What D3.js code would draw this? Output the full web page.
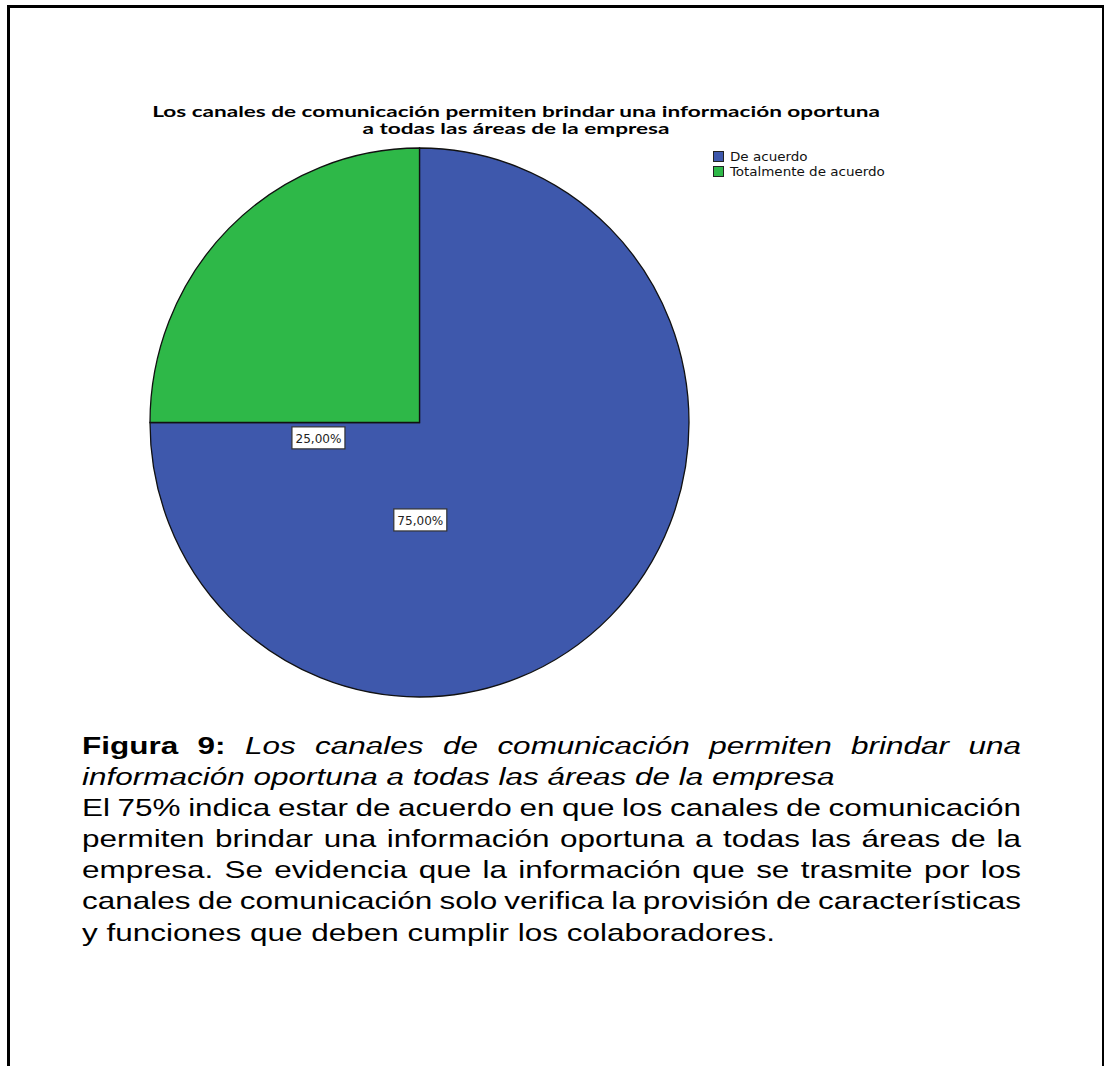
<!DOCTYPE html>
<html>
<head>
<meta charset="utf-8">
<script src="https://cdn.jsdelivr.net/npm/d3@7"></script>
<style>
  html, body { margin: 0; padding: 0; background: #fff; }
  svg { display: block; }
</style>
</head>
<body>
<svg id="chart" width="1104" height="1066"></svg>
<script>
// Survey answers and their shares (%)
const categories = ["De acuerdo", "Totalmente de acuerdo"];
const percentages = [75, 25];
const sliceColors = ["#3E58AC", "#2EB848"];
const chartTitle = [
  "Los canales de comunicación permiten brindar una información oportuna",
  "a todas las áreas de la empresa"
];
const captionLines = [
  { parts: [{ t: "Figura 9:", b: true }, { t: " Los canales de comunicación permiten brindar una", i: true }], justify: true },
  { parts: [{ t: "información oportuna a todas las áreas de la empresa", i: true }], justify: false },
  { parts: [{ t: "El 75% indica estar de acuerdo en que los canales de comunicación" }], justify: true },
  { parts: [{ t: "permiten brindar una información oportuna a todas las áreas de la" }], justify: true },
  { parts: [{ t: "empresa. Se evidencia que la información que se trasmite por los" }], justify: true },
  { parts: [{ t: "canales de comunicación solo verifica la provisión de características" }], justify: true },
  { parts: [{ t: "y funciones que deben cumplir los colaboradores." }], justify: false }
];

const svg = d3.select("#chart");

// outer frame (open at the bottom of the view)
svg.append("path")
  .attr("d", "M8.5,1070 L8.5,6.5 L1103.5,6.5 L1103.5,1070")
  .attr("fill", "none").attr("stroke", "#000").attr("stroke-width", 3);

// stretch a text horizontally about its own anchor so it spans `target` px
function stretchTo(sel, target, ax, ay) {
  const w = sel.node().getComputedTextLength();
  const sx = target / w;
  sel.attr("transform", `translate(${ax},${ay}) scale(${sx},1) translate(${-ax},${-ay})`);
  return sx;
}

// ---- title ----
const titleFont = "Lato, 'Open Sans', sans-serif";
const titleSize = 14.5;
const t1 = svg.append("text").attr("x", 516).attr("y", 117)
  .attr("text-anchor", "middle").attr("font-family", titleFont)
  .attr("font-weight", "bold").attr("font-size", titleSize).attr("fill", "#000").text(chartTitle[0]);
const titleSx = stretchTo(t1, 728, 516, 117);
svg.append("text").attr("x", 516).attr("y", 134)
  .attr("text-anchor", "middle").attr("font-family", titleFont)
  .attr("font-weight", "bold").attr("font-size", titleSize).attr("fill", "#000")
  .attr("transform", `translate(516,0) scale(${titleSx},1) translate(-516,0)`)
  .text(chartTitle[1]);

// ---- pie ----
const cx = 419.5, cy = 422.5, rx = 269.5, ry = 274.5;
const color = d3.scaleOrdinal().domain(categories).range(sliceColors);
const pie = d3.pie().sort(null).value(d => d.value);
const slices = pie(categories.map((c, i) => ({ name: c, value: percentages[i] })));
const arc = d3.arc().innerRadius(0).outerRadius(rx);

const pieG = svg.append("g")
  .attr("transform", `translate(${cx},${cy}) scale(1,${ry / rx})`);
pieG.selectAll("path.slice").data(slices).enter().append("path")
  .attr("class", "slice")
  .attr("d", arc)
  .attr("fill", d => color(d.data.name))
  .attr("stroke", "#111")
  .attr("stroke-width", 1.3)
  .attr("vector-effect", "non-scaling-stroke");

// value labels, placed in units of the radius
const labelOffsets = { "De acuerdo": [0.003, 0.355], "Totalmente de acuerdo": [-0.375, 0.056] };
const fmt = v => d3.format(".2f")(v).replace(".", ",") + "%";
const labelG = svg.append("g");
slices.forEach(s => {
  const off = labelOffsets[s.data.name];
  const lx = cx + off[0] * rx, ly = cy + off[1] * ry;
  const g = labelG.append("g").attr("transform", `translate(${lx},${ly})`);
  g.append("rect").attr("x", -26.5).attr("y", -11)
    .attr("width", 53).attr("height", 22)
    .attr("fill", "#fff").attr("stroke", "#333").attr("stroke-width", 1.2);
  const txt = g.append("text").attr("text-anchor", "middle").attr("dy", "0.36em")
    .attr("font-family", "'DejaVu Sans Condensed', 'DejaVu Sans', sans-serif")
    .attr("font-size", 13).attr("fill", "#222").text(fmt(s.data.value));
  stretchTo(txt, 46, 0, 0);
});

// ---- legend ----
const legG = svg.append("g").attr("transform", "translate(713,151)");
categories.forEach((c, i) => {
  const row = legG.append("g").attr("transform", `translate(0,${i * 15})`);
  row.append("rect").attr("x", 0.5).attr("y", 0.5).attr("width", 10).attr("height", 10)
    .attr("fill", color(c)).attr("stroke", "#222").attr("stroke-width", 1);
  const t = row.append("text").attr("x", 17).attr("y", 10)
    .attr("font-family", "'DejaVu Sans Condensed', 'DejaVu Sans', sans-serif")
    .attr("font-size", 12.5).attr("fill", "#111").text(c);
  t.attr("transform", "translate(17,0) scale(1.2,1) translate(-17,0)");
});

// ---- caption paragraph (justified) ----
const capX0 = 82, capX1 = 1021, capFont = "'Liberation Sans', Arial, sans-serif", capSize = 24;
const capG = svg.append("g").attr("font-family", capFont).attr("font-size", capSize).attr("fill", "#000");
// horizontal stretch taken from the last (unjustified) line reaching x = 775
const probe = capG.append("text").text(captionLines[6].parts[0].t);
const capSx = (775 - capX0) / probe.node().getComputedTextLength();
probe.remove();
capG.attr("transform", `translate(${capX0},0) scale(${capSx},1) translate(${-capX0},0)`);
const innerW = (capX1 - capX0) / capSx;

captionLines.forEach((line, li) => {
  const y = 754 + li * 31.1;
  const lineG = capG.append("g");
  // split into words keeping their style
  const words = [];
  line.parts.forEach(p => {
    p.t.split(" ").forEach(w => { if (w !== "") words.push({ t: w, b: p.b, i: p.i }); });
  });
  const nodes = words.map(w => lineG.append("text").attr("y", y)
    .attr("font-weight", w.b ? "bold" : null)
    .attr("font-style", w.i ? "italic" : null).text(w.t));
  const widths = nodes.map(n => n.node().getComputedTextLength());
  const total = d3.sum(widths);
  const gap = line.justify ? (innerW - total) / (words.length - 1) : capSize * 0.278;
  let x = capX0;
  nodes.forEach((n, k) => { n.attr("x", x); x += widths[k] + gap; });
});
</script>
</body>
</html>
